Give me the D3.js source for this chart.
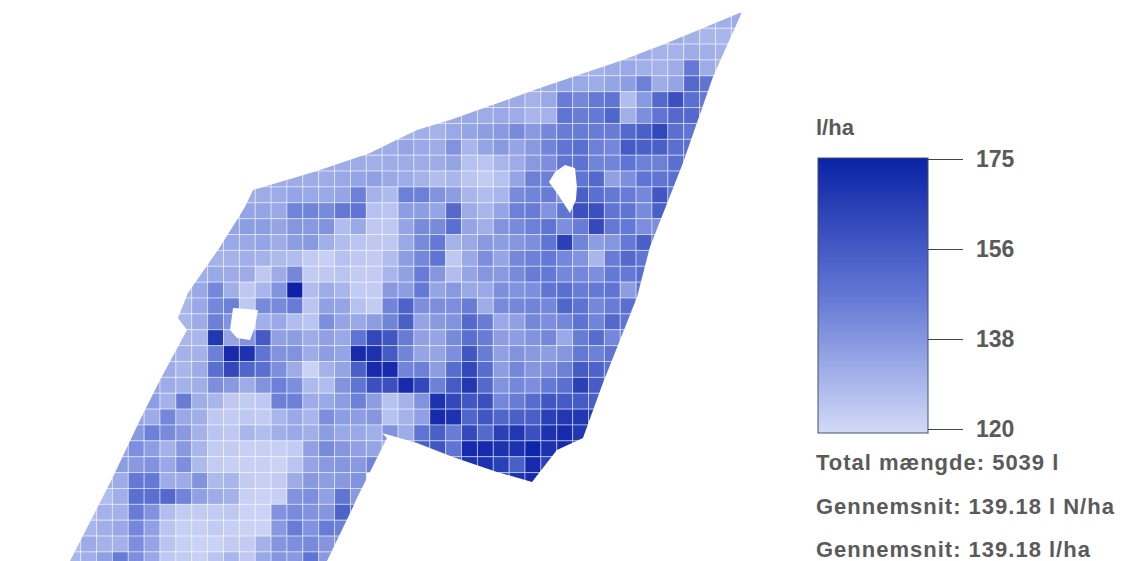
<!DOCTYPE html>
<html>
<head>
<meta charset="utf-8">
<script src="https://cdn.jsdelivr.net/npm/d3@7"></script>
<style>
  html, body { margin: 0; background: #fff; overflow: hidden; }
  text { font-family: "Liberation Sans", Arial, sans-serif; fill: #5a5a5a; }
</style>
</head>
<body>
<div id="chart"></div>
<script>
const F_WIDTH = 1130;
const F_HEIGHT = 561;

// first grid column of each row, then the rate (l/ha) read from each cell
const firstCol = [42,40,37,35,32,29,26,23,20,18,15,12,11,10,10,9,8,8,7,7,7,7,6,5,5,4,4,4,3,3,2,2,1,1,0,0];
const rates = [
  [130],
  [132,132,133],
  [133,133,131,130,130,131],
  [130,133,131,131,133,132,131],
  [131,131,133,134,132,131,133,147,133,130],
  [132,133,135,134,133,135,137,145,133,135,152,148],
  [133,133,133,131,134,146,143,147,148,128,138,152,160,150,147],
  [132,133,134,133,134,133,130,131,148,146,147,153,132,141,148,152,152,150],
  [130,131,132,131,134,135,137,138,142,138,143,146,146,146,146,152,155,163,150,148,150],
  [133,133,133,135,134,133,140,130,135,138,135,138,144,148,150,145,143,157,155,155,150,150],
  [134,133,133,133,132,133,133,133,133,135,127,126,130,133,138,141,148,149,144,144,148,145,145,150,155],
  [133,133,133,133,133,134,135,136,134,133,131,128,130,126,124,127,135,145,145,143,148,152,136,141,148,148,150],
  [133,133,133,135,134,134,135,145,131,129,145,145,140,137,130,128,130,142,144,146,140,155,150,147,146,143,158,148],
  [135,135,135,134,144,144,142,147,148,127,126,137,137,135,152,133,130,135,145,146,140,148,160,160,148,148,142,155],
  [135,137,137,135,139,138,140,128,134,125,125,135,142,142,150,135,132,140,142,145,148,141,146,162,147,147,141,141],
  [134,134,134,135,133,137,138,132,128,126,125,125,134,142,147,131,134,138,137,139,141,148,165,144,137,139,147,155,145],
  [131,131,131,132,131,129,128,124,123,127,125,124,128,137,143,148,125,134,141,135,143,145,147,143,140,130,146,152,148],
  [132,134,133,133,125,133,143,124,125,126,124,124,130,136,146,139,128,135,139,138,142,146,147,143,143,141,147,147,150],
  [130,134,143,132,125,130,140,175,128,133,130,124,124,138,137,147,135,138,134,134,141,140,141,148,150,146,147,148,137,148],
  [130,134,143,145,125,142,142,146,126,136,135,127,124,144,154,141,141,141,146,133,142,143,144,143,153,149,143,146,150,150],
  [130,133,145,140,130,132,134,128,126,141,135,134,137,144,155,135,138,140,152,146,134,136,143,141,143,149,144,152,148],
  [130,130,168,135,140,157,136,137,133,136,134,148,163,158,146,136,135,142,150,146,137,137,140,143,134,146,151,143,145],
  [133,131,131,145,172,170,148,140,140,133,137,135,172,170,157,144,135,135,141,158,146,136,140,138,137,139,147,145,148],
  [133,133,130,133,150,163,153,150,141,133,122,131,135,155,172,172,144,145,137,151,163,151,137,143,139,141,145,157,154,150],
  [135,133,131,132,141,138,133,140,145,141,129,128,140,148,160,160,172,163,145,157,168,152,140,143,141,147,150,165,156,152],
  [135,137,131,146,132,130,125,124,125,145,145,133,134,137,145,137,127,131,140,170,163,158,160,143,146,151,158,157,157,155],
  [135,133,143,134,132,125,124,125,124,130,134,130,141,137,137,139,127,131,136,172,170,153,158,153,155,155,165,168,168,165],
  [138,145,142,138,131,126,125,130,128,132,134,132,137,134,134,132,140,133,148,155,146,162,152,165,168,160,170,172,168],
  [135,141,137,131,138,130,124,124,123,123,123,124,136,142,139,136,135,133,140,155,158,148,172,172,170,170,173,170,172,168],
  [137,138,140,134,141,129,124,123,123,123,122,126,135,138,139,138,144,null,null,null,null,155,170,170,165,155,172,165],
  [132,133,147,147,133,133,140,129,130,124,123,124,133,138,137,138,140,null,null,null,null,null,null,null,null,160,170,172],
  [128,132,150,150,152,144,136,133,131,123,122,123,140,141,136,148,138],
  [128,131,131,146,140,128,124,124,124,125,122,122,140,142,140,139,154,150],
  [130,132,134,143,136,126,123,123,124,123,122,122,138,146,140,146,145],
  [128,133,131,131,141,135,126,123,122,122,124,124,131,139,141,142,139,140],
  [130,132,136,146,141,134,125,124,123,126,130,125,134,139,138,148,138]
];

// field boundary and the two holes, in grid units (column, row)
const fieldOutline = [[42.67,0.98],[37.95,2.93],[35.17,4],[29.94,5.77],[24.27,7.78],[22.19,8.41],[19.23,9.86],[15.89,10.99],[11.86,12.19],[11.35,13.26],[9.78,15.78],[7.76,18.68],[7.13,20.26],[7.7,21.01],[6,24.16],[4.74,26.69],[2.85,30.65],[0.33,35.57],[16.52,35.57],[18.16,32.17],[18.41,31.6],[20.3,27.82],[19.99,27.5],[22.19,28.13],[24.46,29.02],[27.23,29.96],[29.44,30.59],[31.01,28.58],[32.65,27.82],[33.91,24.35],[36.06,18.93],[36.87,15.78],[38.95,10.49],[40.84,5.07]];
const holeWest = [[10.6,19.63],[12.17,19.75],[11.98,20.83],[11.67,21.64],[10.85,21.52],[10.41,21.01]];
const holeEast = [[31.52,10.62],[32.15,10.81],[32.27,12],[32.21,12.82],[31.83,13.64],[31.01,12.38],[30.51,11.69],[30.89,11.06]];

const legendTicks = ["175", "156", "138", "120"];
const statLines = ["Total mængde: 5039 l", "Gennemsnit: 139.18 l N/ha", "Gennemsnit: 139.18 l/ha"];

const COLS = 44;
const ROWS = 36;
const GRID = {left: 64.8, top: -3.5, pitch: 15.87};

const FRAME = d3.select("#chart")
  .append("svg")
    .attr("width", F_WIDTH)
    .attr("height", F_HEIGHT)
    .style("display", "block");

const X_SCALE = d3.scaleLinear().domain([0, COLS]).range([GRID.left, GRID.left + COLS * GRID.pitch]);
const Y_SCALE = d3.scaleLinear().domain([0, ROWS]).range([GRID.top, GRID.top + ROWS * GRID.pitch]);
const COLOR = d3.scaleLinear().domain([120, 147.5, 175]).range(["#d2daf8", "#6277d4", "#0a22a6"]);

// flatten rows into cells
const cells = [];
rates.forEach((row, r) => {
  row.forEach((v, i) => {
    if (v !== null) cells.push({col: firstCol[r] + i, row: r, value: v});
  });
});

const defs = FRAME.append("defs");
const toPath = (ring) => "M" + ring.map((p) => X_SCALE(p[0]) + "," + Y_SCALE(p[1])).join("L") + "Z";

defs.append("clipPath").attr("id", "field")
  .append("path")
    .attr("clip-rule", "evenodd")
    .attr("d", toPath(fieldOutline) + toPath(holeWest) + toPath(holeEast));

// the source picture is a soft scan, a little blur gets close to it
defs.append("filter").attr("id", "soft")
  .append("feGaussianBlur").attr("stdDeviation", 0.5);

const grad = defs.append("linearGradient")
    .attr("id", "ramp")
    .attr("x1", 0).attr("y1", 0).attr("x2", 0).attr("y2", 1);
grad.append("stop").attr("offset", "0%").attr("stop-color", COLOR(175));
grad.append("stop").attr("offset", "50%").attr("stop-color", COLOR(147.5));
grad.append("stop").attr("offset", "100%").attr("stop-color", COLOR(120));

const MAP = FRAME.append("g").attr("clip-path", "url(#field)");
const CELLS = MAP.append("g").attr("filter", "url(#soft)");

CELLS.selectAll("rect.cell")
  .data(cells)
  .enter()
  .append("rect")
    .attr("class", "cell")
    .attr("x", (d) => X_SCALE(d.col))
    .attr("y", (d) => Y_SCALE(d.row))
    .attr("width", GRID.pitch)
    .attr("height", GRID.pitch)
    .attr("fill", (d) => COLOR(d.value))
    .attr("stroke", "#fff")
    .attr("stroke-opacity", 0.45);

// legend
const LEGEND = {left: 818, right: 928, top: 158, bottom: 433};
const TICK_Y = d3.scalePoint().domain(legendTicks).range([159, 429]);

FRAME.append("text")
    .attr("x", 816)
    .attr("y", 135)
    .attr("font-size", 22)
    .attr("font-weight", "bold")
    .text("l/ha");

FRAME.append("rect")
    .attr("x", LEGEND.left)
    .attr("y", LEGEND.top)
    .attr("width", LEGEND.right - LEGEND.left)
    .attr("height", LEGEND.bottom - LEGEND.top)
    .attr("fill", "url(#ramp)")
    .attr("stroke", "#444c70");

const AXIS = FRAME.append("g")
    .attr("transform", "translate(" + LEGEND.right + ",0)")
    .call(d3.axisRight(TICK_Y).tickSize(35).tickPadding(13));
AXIS.select(".domain").remove();
AXIS.selectAll("line").attr("stroke", "#444");
AXIS.selectAll("text")
    .attr("font-family", null)
    .style("font-size", "23px")
    .style("font-weight", "bold");

FRAME.selectAll("text.stat")
  .data(statLines)
  .enter()
  .append("text")
    .attr("class", "stat")
    .attr("x", 816)
    .attr("y", (d, i) => [470, 514, 557][i])
    .attr("font-size", 22)
    .attr("font-weight", "bold")
    .attr("letter-spacing", 1)
    .text((d) => d);
</script>
</body>
</html>
